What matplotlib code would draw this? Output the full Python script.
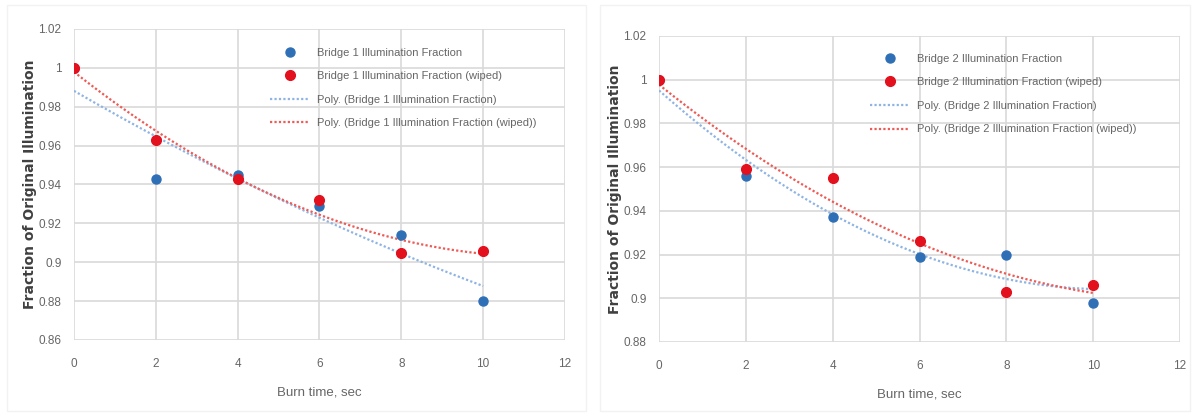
import numpy as np
import matplotlib.pyplot as plt
from matplotlib.patches import Rectangle

# burn time (s) and measured illumination fraction, per bridge
burn_time = [0, 2, 4, 6, 8, 10]

bridge1 = [1.000, 0.943, 0.945, 0.929, 0.914, 0.880]
bridge1_wiped = [1.000, 0.963, 0.943, 0.932, 0.905, 0.906]

bridge2 = [1.000, 0.956, 0.937, 0.919, 0.920, 0.898]
bridge2_wiped = [1.000, 0.959, 0.955, 0.926, 0.903, 0.906]

BLUE = "#2e6fb5"
RED = "#e3101e"
BLUE_TREND = "#8fb4e3"
RED_TREND = "#ee5a55"
GRID = "#d9d9d9"
TXT = "#666666"

plt.rcParams["font.family"] = ["Liberation Sans", "DejaVu Sans"]

fig = plt.figure(figsize=(11.95, 4.16), dpi=100)
ax1 = fig.add_axes([0.0619, 0.1827, 0.4109, 0.7476])
ax2 = fig.add_axes([0.5515, 0.1779, 0.4360, 0.7356])

# faint chart-area borders
for x0, w in [(0.006, 0.484), (0.502, 0.494)]:
    fig.add_artist(Rectangle((x0, 0.012), w, 0.975, transform=fig.transFigure,
                             fill=False, ec="#f2f2f2", lw=1))


def panel(ax, n, y_raw, y_wiped, ylim, yticks, leg_anchor):
    xs = np.array(burn_time, dtype=float)
    xf = np.linspace(0, 10, 200)
    ax.plot(xs, y_raw, "o", color=BLUE, ms=6.5, mec=BLUE,
            label=f"Bridge {n} Illumination Fraction", zorder=4)
    ax.plot(xs, y_wiped, "o", color=RED, ms=7, mec=RED,
            label=f"Bridge {n} Illumination Fraction (wiped)", zorder=4)
    # 2nd-order polynomial trendlines
    p_raw = np.polyfit(xs, y_raw, 2)
    p_wip = np.polyfit(xs, y_wiped, 2)
    ax.plot(xf, np.polyval(p_raw, xf), ls=(0, (1, 1)), color=BLUE_TREND, lw=1.6,
            label=f"Poly. (Bridge {n} Illumination Fraction)", zorder=3)
    ax.plot(xf, np.polyval(p_wip, xf), ls=(0, (1, 1)), color=RED_TREND, lw=1.6,
            label=f"Poly. (Bridge {n} Illumination Fraction (wiped))", zorder=3)

    ax.set_xlim(0, 12)
    ax.set_ylim(*ylim)
    ax.set_xticks(range(0, 13, 2))
    ax.set_yticks(yticks)
    ax.set_yticklabels([f"{v:g}" for v in yticks])
    ax.grid(True, color=GRID, lw=1.2)
    ax.set_axisbelow(True)
    for s in ax.spines.values():
        s.set_visible(False)
    ax.tick_params(length=0, labelsize=8.5, colors=TXT)
    ax.tick_params(axis="x", pad=13)
    ax.tick_params(axis="y", pad=9)
    ax.set_xlabel("Burn time, sec", fontsize=9.5, color=TXT, labelpad=12)
    ax.set_ylabel("Fraction of Original Illumination", fontsize=10,
                  color="#404040", fontweight="bold", family="DejaVu Sans")
    bbox = ax.get_position()
    ax.yaxis.set_label_coords(-37 / (bbox.width * 1195), 0.5)
    ax.legend(loc="upper left", bbox_to_anchor=leg_anchor, frameon=False,
              fontsize=8, labelcolor=TXT, handlelength=3.6, handletextpad=0.6,
              labelspacing=1.22, borderpad=0, borderaxespad=0)


panel(ax1, 1, bridge1, bridge1_wiped, (0.86, 1.02),
      np.round(np.arange(0.86, 1.021, 0.02), 2), (0.40, 0.94))
panel(ax2, 2, bridge2, bridge2_wiped, (0.88, 1.02),
      np.round(np.arange(0.88, 1.021, 0.02), 2), (0.405, 0.942))

fig.savefig("out.png", dpi=100)
